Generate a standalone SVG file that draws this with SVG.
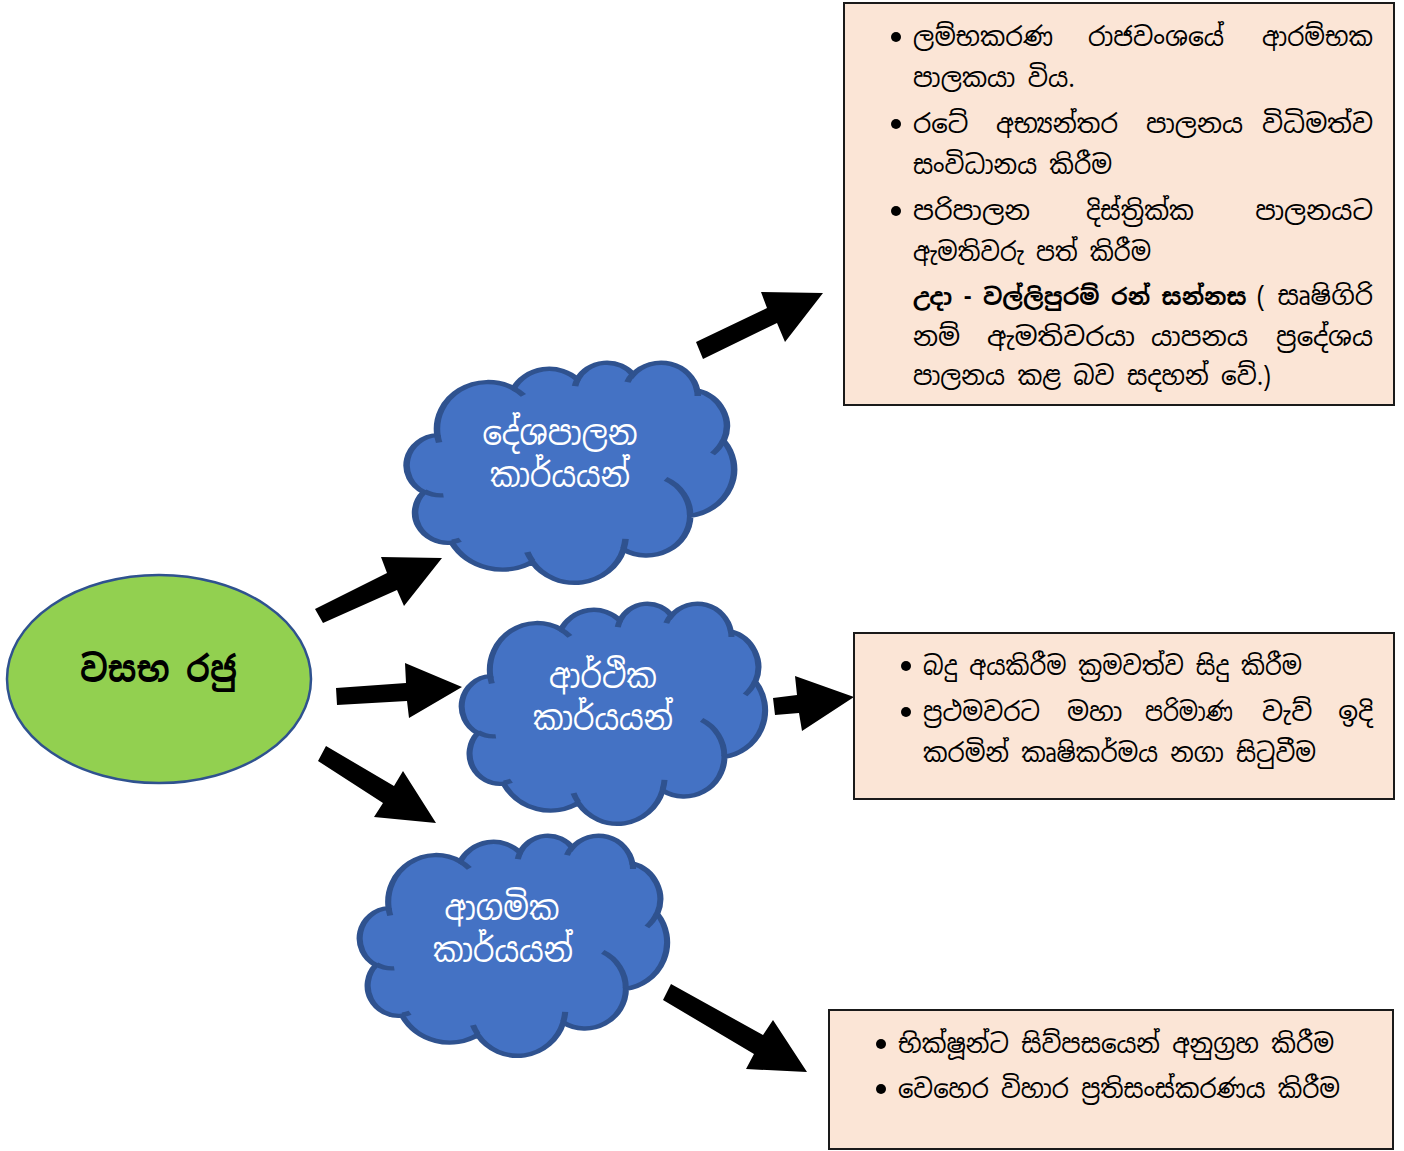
<svg xmlns="http://www.w3.org/2000/svg" width="1404" height="1151" viewBox="0 0 1404 1151">
<style>
  .si { font-family: "Iskoola Pota", "Noto Sans Sinhala", "Noto Serif Sinhala", "Noto Sans", sans-serif; }
  .box { fill: #FBE5D6; stroke: #1a1a1a; stroke-width: 2; }
  .bt { font-size: 26px; fill: #000; }
  .cloud { fill: #4472C4; stroke: #2F528F; stroke-width: 2; }
  .cin { fill: none; stroke: #2F528F; stroke-width: 2; }
  .ct { font-size: 34px; fill: #fff; text-anchor: middle; }
  .arrow { fill: #000; }
  .bul { fill: #000; }
</style>
<defs>
  <path id="cloudShape" d="M9.03,33.26 A15.63,21.27 0 0 1 32.42,12.04 A12.34,16.82 0 0 1 51.98,7.94 A10.10,13.76 0 0 1 69.06,5.74 A11.24,15.27 0 0 1 88.70,12.91 A12.34,16.84 0 0 1 96.80,35.79 A15.68,21.34 0 0 1 86.58,69.91 A13.39,18.21 0 0 1 66.10,85.22 A15.63,21.33 0 0 1 38.15,90.89 A17.87,24.41 0 0 1 13.44,82.11 A10.09,13.70 0 0 1 4.89,59.14 A10.06,13.76 0 0 1 9.03,33.26 Z"/>
  <path id="cloudInner" d="M10.86,60.60 A10.06,13.76 0 0 1 5.00,58.75 M16.04,80.78 A10.09,13.70 0 0 1 13.47,81.67 M38.14,90.49 A15.63,21.33 0 0 1 36.60,86.46 M66.73,80.44 A15.63,21.33 0 0 1 66.11,84.86 M79.00,53.13 A13.39,18.21 0 0 1 86.53,69.65 M96.75,35.54 A12.34,16.84 0 0 1 93.40,41.74 M88.71,12.56 A11.24,15.27 0 0 1 88.89,15.49 M67.31,9.15 A11.24,15.27 0 0 1 69.03,5.41 M51.25,10.93 A10.10,13.76 0 0 1 52.08,7.71 M32.41,12.02 A15.63,21.27 0 0 1 35.41,15.14 M9.55,36.55 A15.63,21.27 0 0 1 9.03,33.26"/>
</defs>

<g id="connectors">
  <polygon class="arrow" points="315,609 387,573 381,557 442,558 404,606 397,590 323,623"/>
  <polygon class="arrow" points="336,688 406,683 405,663 462,687 409,718 407,701 337,705"/>
  <polygon class="arrow" points="326,746 394,786 403,771 436,823 374,817 383,803 318,761"/>
  <polygon class="arrow" points="696,342 767,308 761,292 823,293 785,342 777,323 703,359"/>
  <polygon class="arrow" points="773,698 797,695 795,676 854,697 802,731 799,713 775,715"/>
  <polygon class="arrow" points="671,984 763,1035 773,1020 807,1072 746,1069 754,1054 663,1000"/>
</g>

<g id="node-king">
  <ellipse cx="159" cy="679" rx="152" ry="104" fill="#92D050" stroke="#2F528F" stroke-width="2.5"/>
  <text class="si" x="80" y="682" font-size="36" font-weight="bold" fill="#000" textLength="157" lengthAdjust="spacingAndGlyphs">වසභ රජු</text>
</g>

<g id="node-political">
  <g transform="translate(408,362) scale(3.26,2.2)">
    <use href="#cloudShape" class="cloud" style="vector-effect:non-scaling-stroke"/>
    <use href="#cloudInner" class="cin" style="vector-effect:non-scaling-stroke"/>
  </g>
  <text class="si ct" x="560" y="445" textLength="155" lengthAdjust="spacingAndGlyphs">දේශපාලන</text>
  <text class="si ct" x="560" y="487" textLength="140" lengthAdjust="spacingAndGlyphs">කාර්යයන්</text>
</g>

<g id="node-economic">
  <g transform="translate(463,603) scale(3.02,2.2)">
    <use href="#cloudShape" class="cloud" style="vector-effect:non-scaling-stroke"/>
    <use href="#cloudInner" class="cin" style="vector-effect:non-scaling-stroke"/>
  </g>
  <text class="si ct" x="603" y="688" textLength="108" lengthAdjust="spacingAndGlyphs">ආර්ථික</text>
  <text class="si ct" x="603" y="730" textLength="140" lengthAdjust="spacingAndGlyphs">කාර්යයන්</text>
</g>

<g id="node-religious">
  <g transform="translate(361,835) scale(3.06,2.2)">
    <use href="#cloudShape" class="cloud" style="vector-effect:non-scaling-stroke"/>
    <use href="#cloudInner" class="cin" style="vector-effect:non-scaling-stroke"/>
  </g>
  <text class="si ct" x="502" y="920" textLength="115" lengthAdjust="spacingAndGlyphs">ආගමික</text>
  <text class="si ct" x="503" y="962" textLength="140" lengthAdjust="spacingAndGlyphs">කාර්යයන්</text>
</g>

<g id="node-political-box">
  <rect class="box" x="844" y="3" width="550" height="402"/>
  <circle class="bul" cx="896" cy="37" r="5"/>
  <circle class="bul" cx="896" cy="124" r="5"/>
  <circle class="bul" cx="896" cy="211" r="5"/>
  <g class="si bt">
    <text x="913" y="46" textLength="140" lengthAdjust="spacingAndGlyphs">ලම්භකරණ</text>
    <text x="1088" y="46" textLength="136" lengthAdjust="spacingAndGlyphs">රාජවංශයේ</text>
    <text x="1262" y="46" textLength="111" lengthAdjust="spacingAndGlyphs">ආරම්භක</text>
    <text x="913" y="87" textLength="162" lengthAdjust="spacingAndGlyphs">පාලකයා විය.</text>
    <text x="913" y="133">රටේ</text>
    <text x="996" y="133" textLength="122" lengthAdjust="spacingAndGlyphs">අභ්‍යන්තර</text>
    <text x="1146" y="133" textLength="97" lengthAdjust="spacingAndGlyphs">පාලනය</text>
    <text x="1373" y="133" text-anchor="end">විධිමත්ව</text>
    <text x="913" y="174" textLength="199" lengthAdjust="spacingAndGlyphs">සංවිධානය කිරීම</text>
    <text x="913" y="220" textLength="117" lengthAdjust="spacingAndGlyphs">පරිපාලන</text>
    <text x="1086" y="220" textLength="108" lengthAdjust="spacingAndGlyphs">දිස්ත්‍රික්ක</text>
    <text x="1373" y="220" text-anchor="end">පාලනයට</text>
    <text x="913" y="261" textLength="238" lengthAdjust="spacingAndGlyphs">ඇමතිවරු පත් කිරීම</text>
    <text x="913" y="305" font-weight="bold" font-size="23">උදා - වල්ලිපුරම් රන් සන්නස</text>
    <text x="1373" y="305" text-anchor="end">( සෘෂිගිරි</text>
    <text x="913" y="346">නම්</text>
    <text x="987" y="346" textLength="148" lengthAdjust="spacingAndGlyphs">ඇමතිවරයා</text>
    <text x="1151" y="346" textLength="97" lengthAdjust="spacingAndGlyphs">යාපනය</text>
    <text x="1373" y="346" text-anchor="end">ප්‍රදේශය</text>
    <text x="913" y="385" textLength="358" lengthAdjust="spacingAndGlyphs">පාලනය කළ බව සදහන් වේ.)</text>
  </g>
</g>

<g id="node-economic-box">
  <rect class="box" x="854" y="633" width="540" height="166"/>
  <circle class="bul" cx="906" cy="666" r="5"/>
  <circle class="bul" cx="906" cy="712" r="5"/>
  <g class="si bt">
    <text x="923" y="675" textLength="379" lengthAdjust="spacingAndGlyphs">බදු අයකිරීම ක්‍රමවත්ව සිදු කිරීම</text>
    <text x="923" y="721" textLength="117" lengthAdjust="spacingAndGlyphs">ප්‍රථමවරට</text>
    <text x="1067" y="721">මහා</text>
    <text x="1145" y="721" textLength="88" lengthAdjust="spacingAndGlyphs">පරිමාණ</text>
    <text x="1262" y="721">වැව්</text>
    <text x="1373" y="721" text-anchor="end">ඉදි</text>
    <text x="923" y="762" textLength="393" lengthAdjust="spacingAndGlyphs">කරමින් කෘෂිකර්මය නගා සිටුවීම</text>
  </g>
</g>

<g id="node-religious-box">
  <rect class="box" x="829" y="1010" width="564" height="139"/>
  <circle class="bul" cx="881" cy="1044" r="5"/>
  <circle class="bul" cx="881" cy="1089" r="5"/>
  <g class="si bt">
    <text x="898" y="1053" textLength="436" lengthAdjust="spacingAndGlyphs">භික්ෂූන්ට සිව්පසයෙන් අනුග්‍රහ කිරීම</text>
    <text x="898" y="1098" textLength="442" lengthAdjust="spacingAndGlyphs">වෙහෙර විහාර ප්‍රතිසංස්කරණය කිරීම</text>
  </g>
</g>
</svg>
